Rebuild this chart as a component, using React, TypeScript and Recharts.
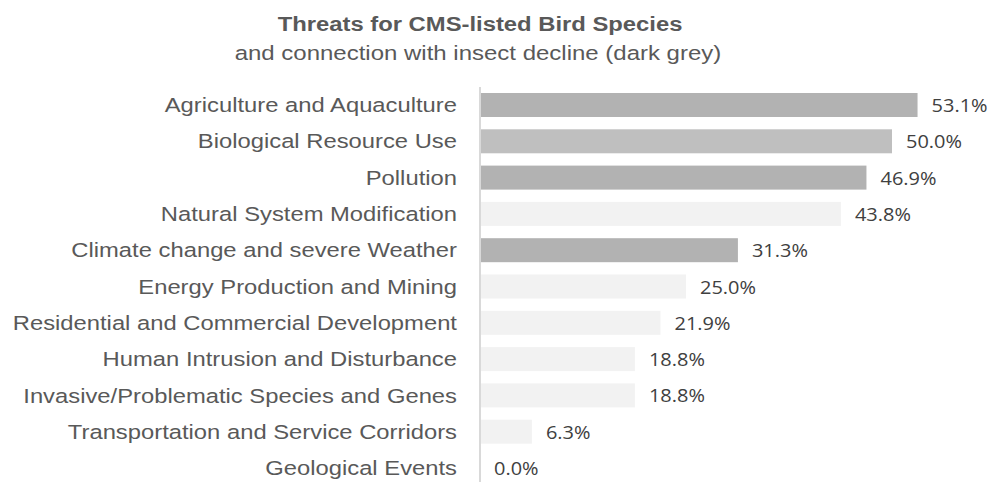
import React from 'react';
import { BarChart, Bar, XAxis, YAxis, Cell } from 'recharts';

const threats = [
  'Agriculture and Aquaculture',
  'Biological Resource Use',
  'Pollution',
  'Natural System Modification',
  'Climate change and severe Weather',
  'Energy Production and Mining',
  'Residential and Commercial Development',
  'Human Intrusion and Disturbance',
  'Invasive/Problematic Species and Genes',
  'Transportation and Service Corridors',
  'Geological Events',
];

const shares = [53.1, 50.0, 46.9, 43.8, 31.3, 25.0, 21.9, 18.8, 18.8, 6.3, 0.0];

// dark = linked with insect decline
const barColors = [
  '#b2b2b2', '#bfbfbf', '#b2b2b2', '#f2f2f2', '#b2b2b2', '#f2f2f2',
  '#f2f2f2', '#f2f2f2', '#f2f2f2', '#f2f2f2', '#f2f2f2',
];

const data = threats.map((name, i) => ({ name, value: shares[i], color: barColors[i] }));

const SANS = "'Liberation Sans', Arial, sans-serif";

const CategoryTick = (props: any) => {
  const { y, payload } = props;
  return (
    <text
      transform={`translate(457,${y}) scale(1.22,1)`}
      x={0}
      y={0}
      dy="0.36em"
      textAnchor="end"
      fill="#595959"
      fontSize={19.5}
      fontFamily={SANS}
    >
      {payload.value}
    </text>
  );
};

// bar plus its value label, so the 0% row still gets a label
const BarWithValue = (props: any) => {
  const { x, y, width, height, payload } = props;
  const w = Math.max(0, width || 0);
  return (
    <g>
      {w > 0 && <rect x={x} y={y} width={w} height={height} fill={payload.color} />}
      <text
        transform={`translate(${x + w + 14},${y + height / 2}) scale(1.08,1)`}
        x={0}
        y={0}
        dy="0.38em"
        fill="#404040"
        fontSize={18.5}
        fontFamily="'Open Sans', sans-serif"
      >
        {`${payload.value.toFixed(1)}%`}
      </text>
    </g>
  );
};

export default function App() {
  return (
    <div
      style={{
        position: 'absolute',
        left: 0,
        top: 0,
        width: 995,
        height: 482,
        overflow: 'hidden',
        background: '#fff',
        fontFamily: SANS,
        color: '#595959',
      }}
    >
      <div style={{ position: 'absolute', top: 11, left: 0, width: 960, textAlign: 'center', fontSize: 20, fontWeight: 'bold', lineHeight: '26px' }}>
        <span style={{ display: 'inline-block', transform: 'scaleX(1.19)' }}>Threats for CMS-listed Bird Species</span>
      </div>
      <div style={{ position: 'absolute', top: 40, left: 0, width: 956, textAlign: 'center', fontSize: 20.5, lineHeight: '26px' }}>
        <span style={{ display: 'inline-block', transform: 'scaleX(1.17)' }}>and connection with insect decline (dark grey)</span>
      </div>
      <div style={{ position: 'absolute', left: 0, top: 0 }}>
        <BarChart
          width={995}
          height={500}
          data={data}
          layout="vertical"
          margin={{ top: 87, right: 20.6, bottom: 13.7, left: 0 }}
          barSize={24}
        >
          <XAxis type="number" domain={[0, 60]} hide />
          <YAxis
            type="category"
            dataKey="name"
            width={480}
            axisLine={{ stroke: '#d9d9d9', strokeWidth: 2 }}
            tickLine={false}
            tick={<CategoryTick />}
            interval={0}
          />
          <Bar dataKey="value" isAnimationActive={false} shape={<BarWithValue />}>
            {data.map((d) => (
              <Cell key={d.name} fill={d.color} />
            ))}
          </Bar>
        </BarChart>
      </div>
    </div>
  );
}
